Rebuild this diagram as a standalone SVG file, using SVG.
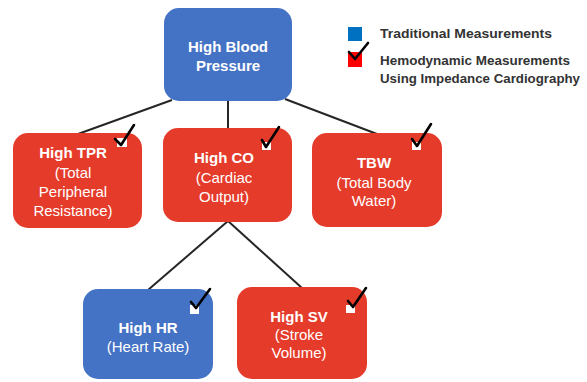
<svg xmlns="http://www.w3.org/2000/svg" width="587" height="382" viewBox="0 0 587 382">
<style>
.red{fill:#e53b2a}
.blue{fill:#4472c4}
.t{font-family:"Liberation Sans",Arial,sans-serif;font-size:15px;fill:#ffffff;text-anchor:middle}
.b{font-weight:bold}
.lg{font-family:"Liberation Sans",Arial,sans-serif;font-size:12.5px;font-weight:bold;fill:#333333}
.chk{fill:none;stroke:#000000;stroke-width:2.6;stroke-linecap:round;stroke-linejoin:round}
.sq{fill:#ffffff}
.conn{stroke:#262626;stroke-width:2;fill:none}
</style>
<rect width="587" height="382" fill="#ffffff"/>
<g id="connectors">
<line class="conn" x1="172" y1="100" x2="78" y2="134"/>
<line class="conn" x1="228" y1="100" x2="228" y2="129"/>
<line class="conn" x1="285" y1="99" x2="377" y2="134"/>
<line class="conn" x1="228" y1="221" x2="148" y2="290"/>
<line class="conn" x1="228" y1="221" x2="302" y2="288"/>
</g>
<g id="node-bp">
<rect class="blue" x="164" y="8" width="128" height="93" rx="15"/>
<text class="t b" x="228" y="52">High Blood</text>
<text class="t b" x="228" y="71">Pressure</text>
</g>
<g id="node-tpr">
<rect class="red" x="13" y="133" width="129" height="95" rx="15"/>
<rect class="sq" x="117" y="138" width="10" height="9"/>
<polyline class="chk" points="115,139 121,145 134,125"/>
<text class="t b" x="73" y="158">High TPR</text>
<text class="t" x="73" y="178">(Total</text>
<text class="t" x="73" y="197">Peripheral</text>
<text class="t" x="73" y="216">Resistance)</text>
</g>
<g id="node-co">
<rect class="red" x="163" y="128" width="129" height="94" rx="15"/>
<rect class="sq" x="262" y="142" width="9" height="8"/>
<polyline class="chk" points="262,140 266,147 279,127"/>
<text class="t b" x="224" y="163">High CO</text>
<text class="t" x="224" y="183">(Cardiac</text>
<text class="t" x="224" y="202">Output)</text>
</g>
<g id="node-tbw">
<rect class="red" x="312" y="133" width="130" height="94" rx="15"/>
<rect class="sq" x="412" y="142" width="9" height="8"/>
<polyline class="chk" points="412,139 417,146 431,124"/>
<text class="t b" x="374" y="168">TBW</text>
<text class="t" x="374" y="188">(Total Body</text>
<text class="t" x="374" y="206">Water)</text>
</g>
<g id="node-hr">
<rect class="blue" x="83" y="289" width="130" height="90" rx="15"/>
<rect class="sq" x="190" y="305" width="9" height="9"/>
<polyline class="chk" points="191,302 196,308 210,289"/>
<text class="t b" x="148" y="333">High HR</text>
<text class="t" x="148" y="352">(Heart Rate)</text>
</g>
<g id="node-sv">
<rect class="red" x="237" y="287" width="130" height="92" rx="15"/>
<rect class="sq" x="346" y="305" width="9" height="8"/>
<polyline class="chk" points="348,301 353,307 366,288"/>
<text class="t b" x="299" y="322">High SV</text>
<text class="t" x="299" y="340">(Stroke</text>
<text class="t" x="299" y="358">Volume)</text>
</g>
<g id="legend">
<rect x="348" y="27" width="14" height="14" fill="#0070c0"/>
<rect x="348" y="52" width="14" height="15" fill="#ff0000"/>
<polyline class="chk" points="349,52 355,59 368,43"/>
<text class="lg" x="380" y="38" textLength="172" lengthAdjust="spacingAndGlyphs">Traditional Measurements</text>
<text class="lg" x="380" y="65" textLength="190" lengthAdjust="spacingAndGlyphs">Hemodynamic Measurements</text>
<text class="lg" x="380" y="83" textLength="200" lengthAdjust="spacingAndGlyphs">Using Impedance Cardiography</text>
</g>
</svg>
